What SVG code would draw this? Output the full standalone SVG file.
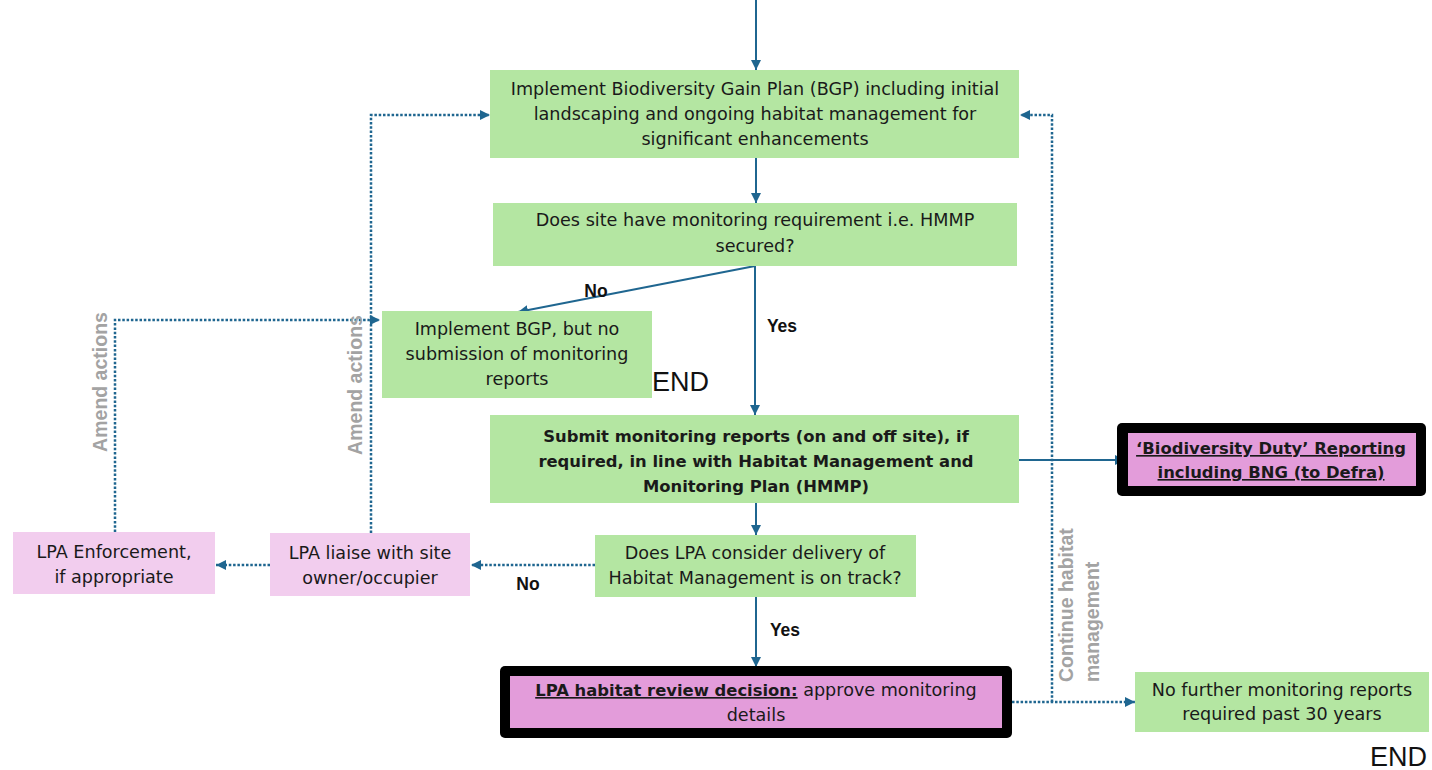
<svg xmlns="http://www.w3.org/2000/svg" width="1432" height="770" viewBox="0 0 1432 770">
<style>
text{font-family:"DejaVu Sans","Liberation Sans",Arial,sans-serif;fill:#1a1a1a}
.t{font-size:17.6px;text-anchor:middle}
.b{font-weight:bold;font-size:16.4px}
.u{text-decoration:underline}
.lbl{font-size:17.5px;font-weight:bold;text-anchor:middle;fill:#111;font-family:"Liberation Sans",Arial,sans-serif}
.rot{font-size:19.5px;font-weight:bold;fill:#a3a3a3;font-family:"Liberation Sans",Arial,sans-serif}
.end{font-size:27px;fill:#111;font-family:"Liberation Sans",Arial,sans-serif}
.green{fill:#b4e6a2}
.lpink{fill:#f2cdee}
.pink{fill:#e39cda}
.blk{fill:#000}
.solid{fill:none;stroke:#1f6690;stroke-width:2}
.dot{fill:none;stroke:#1f6690;stroke-width:2.5;stroke-dasharray:2.5 1.8}
</style>
<defs>
<marker id="ah" markerUnits="userSpaceOnUse" markerWidth="12" markerHeight="10" refX="10" refY="5" orient="auto">
<path d="M0,0 L10,5 L0,10 Z" fill="#1f6690"/>
</marker>
</defs>
<rect width="1432" height="770" fill="#fff"/>

<g id="connectors">
<path class="solid" d="M756,0 V70" marker-end="url(#ah)"/>
<path class="solid" d="M756,158 V203" marker-end="url(#ah)"/>
<path class="solid" d="M755,266 L518,312" marker-end="url(#ah)"/>
<path class="solid" d="M755,266 V415" marker-end="url(#ah)"/>
<path class="solid" d="M1019,460 H1125" marker-end="url(#ah)"/>
<path class="solid" d="M756,503 V535" marker-end="url(#ah)"/>
<path class="solid" d="M756,597 V667" marker-end="url(#ah)"/>
<path class="dot" d="M595,565 H471" marker-end="url(#ah)"/>
<path class="dot" d="M270,565 H216" marker-end="url(#ah)"/>
<path class="dot" d="M115,532 V320 H380" marker-end="url(#ah)"/>
<path class="dot" d="M371,533 V115 H490" marker-end="url(#ah)"/>
<path class="dot" d="M1012,702 H1135" marker-end="url(#ah)"/>
<path class="dot" d="M1052,702 V115 H1020" marker-end="url(#ah)"/>
<text class="lbl" x="596" y="297">No</text>
<text class="lbl" x="782" y="332">Yes</text>
<text class="lbl" x="528" y="590">No</text>
<text class="lbl" x="785" y="636">Yes</text>
<text class="rot" transform="translate(107,382) rotate(-90)" text-anchor="middle">Amend actions</text>
<text class="rot" transform="translate(362,385) rotate(-90)" text-anchor="middle">Amend actions</text>
<text class="rot" transform="translate(1073,682) rotate(-90)">Continue habitat</text>
<text class="rot" transform="translate(1099,682) rotate(-90)">management</text>
</g>

<g id="n1">
<rect class="green" x="490" y="70" width="529" height="88"/>
<text class="t" x="755" y="95">Implement Biodiversity Gain Plan (BGP) including initial</text>
<text class="t" x="755" y="120">landscaping  and ongoing habitat management for</text>
<text class="t" x="755" y="145">significant enhancements</text>
</g>

<g id="n2">
<rect class="green" x="493" y="203" width="524" height="63"/>
<text class="t" x="755" y="226">Does site have monitoring requirement i.e. HMMP</text>
<text class="t" x="755" y="252">secured?</text>
</g>

<g id="n3">
<rect class="green" x="382" y="311" width="270" height="87"/>
<text class="t" x="517" y="335">Implement BGP, but no</text>
<text class="t" x="517" y="360">submission of monitoring</text>
<text class="t" x="517" y="385">reports</text>
</g>
<text class="end" x="652" y="391">END</text>

<g id="n4">
<rect class="green" x="490" y="415" width="529" height="88"/>
<text class="t b" x="756" y="442">Submit monitoring reports (on and off site), if</text>
<text class="t b" x="756" y="467">required, in line with Habitat Management and</text>
<text class="t b" x="756" y="492">Monitoring Plan (HMMP)</text>
</g>

<g id="n5">
<rect class="blk" x="1117" y="423" width="309" height="73" rx="5"/>
<rect class="pink" x="1128" y="433" width="288" height="53"/>
<text class="t b u" x="1271" y="454">‘Biodiversity Duty’ Reporting</text>
<text class="t b u" x="1271" y="478">including BNG (to Defra)</text>
</g>

<g id="n6">
<rect class="green" x="595" y="535" width="321" height="62"/>
<text class="t" x="755" y="559">Does LPA consider delivery of</text>
<text class="t" x="755" y="584">Habitat Management is on track?</text>
</g>

<g id="n7">
<rect class="lpink" x="270" y="533" width="200" height="63"/>
<text class="t" x="370" y="559">LPA liaise with site</text>
<text class="t" x="370" y="584">owner/occupier</text>
</g>

<g id="n8">
<rect class="lpink" x="13" y="532" width="202" height="62"/>
<text class="t" x="114" y="558">LPA Enforcement,</text>
<text class="t" x="114" y="583">if appropriate</text>
</g>

<g id="n9">
<rect class="blk" x="500" y="666" width="512" height="72" rx="5"/>
<rect class="pink" x="510" y="676" width="492" height="52"/>
<text class="t" x="756" y="696"><tspan class="b u">LPA habitat review decision:</tspan> approve monitoring</text>
<text class="t" x="756" y="721">details</text>
</g>

<g id="n10">
<rect class="green" x="1135" y="672" width="294" height="60"/>
<text class="t" x="1282" y="696">No further monitoring reports</text>
<text class="t" x="1282" y="720">required past 30 years</text>
</g>
<text class="end" x="1370" y="766">END</text>
</svg>
